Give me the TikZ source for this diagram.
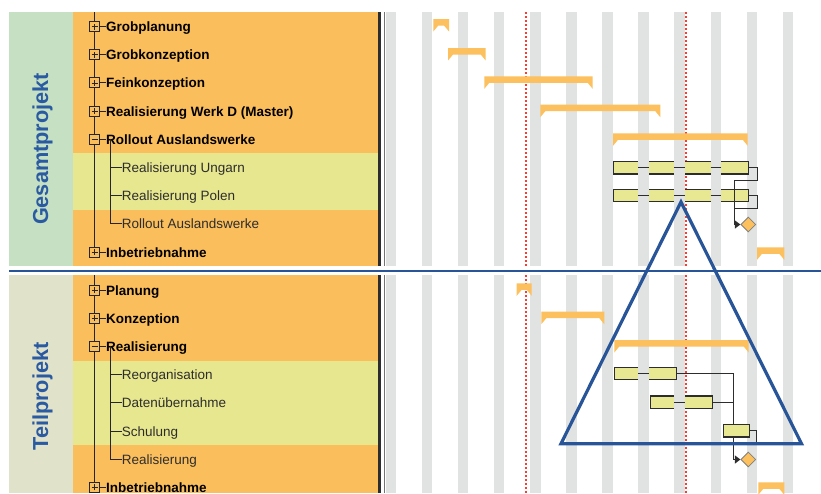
\documentclass[tikz,border=0pt]{standalone}
\usepackage{fontspec}
\setmainfont{Liberation Sans}
\usetikzlibrary{arrows.meta,shapes.geometric}
\definecolor{orangebg}{RGB}{251,190,92}
\definecolor{sumfill}{RGB}{252,192,94}
\definecolor{bandyellow}{RGB}{231,231,143}
\definecolor{taskfill}{RGB}{232,232,146}
\definecolor{greencol}{RGB}{197,224,194}
\definecolor{olivecol}{RGB}{224,226,201}
\definecolor{stripegrey}{RGB}{225,226,226}
\definecolor{bluetxt}{RGB}{42,90,162}
\definecolor{blueline}{RGB}{40,84,152}
\definecolor{reddot}{RGB}{250,60,50}
\definecolor{barline}{RGB}{45,45,45}
\definecolor{childtxt}{RGB}{45,45,45}
\newcommand\sumbar[3]{\fill[sumfill] (#1,#3) -- (#2,#3) -- (#2,{#3+12.5}) -- ({#2-5},{#3+6.5}) -- ({#1+5},{#3+6.5}) -- (#1,{#3+12.5}) -- cycle;}
\newcommand\bargap[2]{\fill[stripegrey] (#1,{#2-7}) rectangle ++(10.5,14); \draw[barline,line width=0.8] (#1,#2) -- ++(10.5,0);}
\tikzset{
  lbl/.style={anchor=west, inner sep=0pt, text height=10pt, text depth=0pt},
  ptext/.style={lbl, font=\fontsize{13.5}{16}\selectfont\bfseries, text=black},
  ctext/.style={lbl, font=\fontsize{13.5}{16}\selectfont, text=childtxt},
  vtitle/.style={rotate=90, inner sep=0pt, font=\fontsize{21.7}{24}\selectfont\bfseries, text=bluetxt},
  tree/.style={draw=black!85, line width=0.9pt},
  boxbase/.style={draw=black!85, fill=orangebg, minimum size=10pt, inner sep=0pt, line width=0.9pt},
  plusbox/.style={boxbase, path picture={\draw[line width=0.8pt] ([xshift=-3pt]path picture bounding box.center) -- ([xshift=3pt]path picture bounding box.center) ([yshift=-3pt]path picture bounding box.center) -- ([yshift=3pt]path picture bounding box.center);}},
  minusbox/.style={boxbase, path picture={\draw[line width=0.8pt] ([xshift=-3pt]path picture bounding box.center) -- ([xshift=3pt]path picture bounding box.center);}},
  taskbar/.style={draw=barline, line width=1.2pt, fill=taskfill, inner sep=0pt, minimum height=12.3pt, anchor=west},
  ms/.style={diamond, minimum width=15pt, minimum height=15pt, inner sep=0pt, fill=sumfill, draw=gray, line width=0.8pt},
  link/.style={draw=barline, line width=1pt},
  arr/.style={-{Triangle[length=5.5pt,width=8pt]}}
}
\begin{document}
\begin{tikzpicture}[x=1pt,y=-1pt]
\useasboundingbox (0,0) rectangle (821,493);
\clip (0,0) rectangle (821,493);
% panels
\fill[greencol] (9,12) rectangle (73,266);
\fill[orangebg] (73,12) rectangle (378.3,266);
\fill[bandyellow] (73,153.3) rectangle (378.3,209.5);
\fill[olivecol] (9,275) rectangle (73,493);
\fill[orangebg] (73,275) rectangle (378.3,493);
\fill[bandyellow] (73,360.5) rectangle (378.3,445);
% stripes
\foreach \k in {0,...,11} {
  \fill[stripegrey] ({385.6+36.1*\k},12) rectangle ++(10.5,254);
  \fill[stripegrey] ({385.6+36.1*\k},275) rectangle ++(10.5,218);
}
% dividers
\draw[barline, line width=2.4] (379.5,12) -- (379.5,266) (379.5,275) -- (379.5,493);
\draw[black!55, line width=1.6] (384.3,12) -- (384.3,266) (384.3,275) -- (384.3,493);
% red dotted lines
\foreach \x in {526,686}
  \draw[reddot, line width=1.5, dash pattern=on 2pt off 2pt] (\x,12) -- (\x,266) (\x,275) -- (\x,493);
% vertical titles
\node[vtitle] (gp) at (42.5,149) {Gesamtprojekt};
\node[vtitle] (tp) at (42.5,396.5) {Teilprojekt};
% ---------- top tree ----------
\coordinate (ttop) at (94.5,12);
\draw[tree] (ttop) -- (94.5,247);
\node[plusbox] (tb0) at (94.5,26.5) {};
\node[plusbox] (tb1) at (94.5,54.7) {};
\node[plusbox] (tb2) at (94.5,82.9) {};
\node[plusbox] (tb3) at (94.5,111.1) {};
\node[minusbox] (tb4) at (94.5,139.3) {};
\node[plusbox] (tb8) at (94.5,252.1) {};
\node[ptext] (tt0) at (106,26.5) {Grobplanung};
\node[ptext] (tt1) at (106,54.7) {Grobkonzeption};
\node[ptext] (tt2) at (106,82.9) {Feinkonzeption};
\node[ptext] (tt3) at (106,111.1) {Realisierung Werk D (Master)};
\node[ptext] (tt4) at (106,139.3) {Rollout Auslandswerke};
\node[ctext] (tt5) at (121.7,167.5) {Realisierung Ungarn};
\node[ctext] (tt6) at (121.7,195.7) {Realisierung Polen};
\node[ctext] (tt7) at (121.7,223.9) {Rollout Auslandswerke};
\node[ptext] (tt8) at (106,252.1) {Inbetriebnahme};
\foreach \i in {0,1,2,3,4,8} \draw[tree] (tb\i.east) -- (tt\i.west);
\coordinate (tc) at (110,139.3);
\draw[tree] (tc) |- (tt7.west);
\draw[tree] (tc |- tt5.west) -- (tt5.west);
\draw[tree] (tc |- tt6.west) -- (tt6.west);
% ---------- bottom tree ----------
\coordinate (btop) at (94.5,275);
\draw[tree] (btop) -- (94.5,490);
\node[plusbox] (bb0) at (94.5,290) {};
\node[plusbox] (bb1) at (94.5,318.2) {};
\node[minusbox] (bb2) at (94.5,346.4) {};
\node[plusbox] (bb7) at (94.5,487.4) {};
\node[ptext] (bt0) at (106,290) {Planung};
\node[ptext] (bt1) at (106,318.2) {Konzeption};
\node[ptext] (bt2) at (106,346.4) {Realisierung};
\node[ctext] (bt3) at (121.7,374.6) {Reorganisation};
\node[ctext] (bt4) at (121.7,402.8) {Datenübernahme};
\node[ctext] (bt5) at (121.7,431) {Schulung};
\node[ctext] (bt6) at (121.7,459.2) {Realisierung};
\node[ptext] (bt7) at (106,487.4) {Inbetriebnahme};
\foreach \i in {0,1,2,7} \draw[tree] (bb\i.east) -- (bt\i.west);
\coordinate (bc) at (110,346.4);
\draw[tree] (bc) |- (bt6.west);
\foreach \i in {3,4,5} \draw[tree] (bc |- bt\i.west) -- (bt\i.west);
% ---------- summary bars ----------
\sumbar{433.3}{449}{19}
\sumbar{448}{485.7}{48}
\sumbar{484.3}{592.7}{76.3}
\sumbar{540.3}{660.3}{104.7}
\sumbar{613}{747.7}{133.3}
\sumbar{757}{784.3}{247.3}
\sumbar{516.7}{531.7}{283.3}
\sumbar{541.3}{604.3}{311.7}
\sumbar{614.3}{748.7}{340}
\sumbar{758.3}{784.3}{482.3}
% ---------- task bars ----------
\node[taskbar, minimum width=134.7pt] (ung) at (613,167.8) {};
\node[taskbar, minimum width=134.7pt] (pol) at (613,195.5) {};
\node[taskbar, minimum width=61.5pt] (reo) at (614,373.7) {};
\node[taskbar, minimum width=62.5pt] (dat) at (649.5,402.2) {};
\node[taskbar, minimum width=26pt] (sch) at (722.7,430.8) {};
\foreach \g in {638.3,674.4,710.5} {\bargap{\g}{167.8} \bargap{\g}{195.5}}
\bargap{638.3}{373.7}
\bargap{674.4}{402.2}
% milestones
\node[ms] (ms1) at (748.3,224.5) {};
\node[ms] (ms2) at (748.3,459.5) {};
% ---------- links ----------
\draw[link, arr] (ung.east) -- ++(8.3,0) -- ++(0,12.7) -- ++(-23,0) coordinate (jt) |- (ms1.west);
\draw[link] (pol.east) -- ++(8.3,0) -- ++(0,13) -- ++(-23,0);
\coordinate (jb) at (733,424.5);
\draw[link] (reo.east) -| (jb);
\draw[link] (dat.east) -- (dat.east -| jb);
\draw[link, arr] (jb |- sch.south) |- (ms2.west);
\draw[link] (sch.east) -- ++(6.5,0) -- ++(0,13.3) -- ++(-22.2,0);
% ---------- separator and triangle ----------
\draw[blueline, line width=2.2] (9,270.7) -- (821,270.7);
\draw[blueline, line width=3.2, line join=miter] (681,202) -- (561,443.7) -- (801.5,443.7) -- cycle;
\end{tikzpicture}
\end{document}
